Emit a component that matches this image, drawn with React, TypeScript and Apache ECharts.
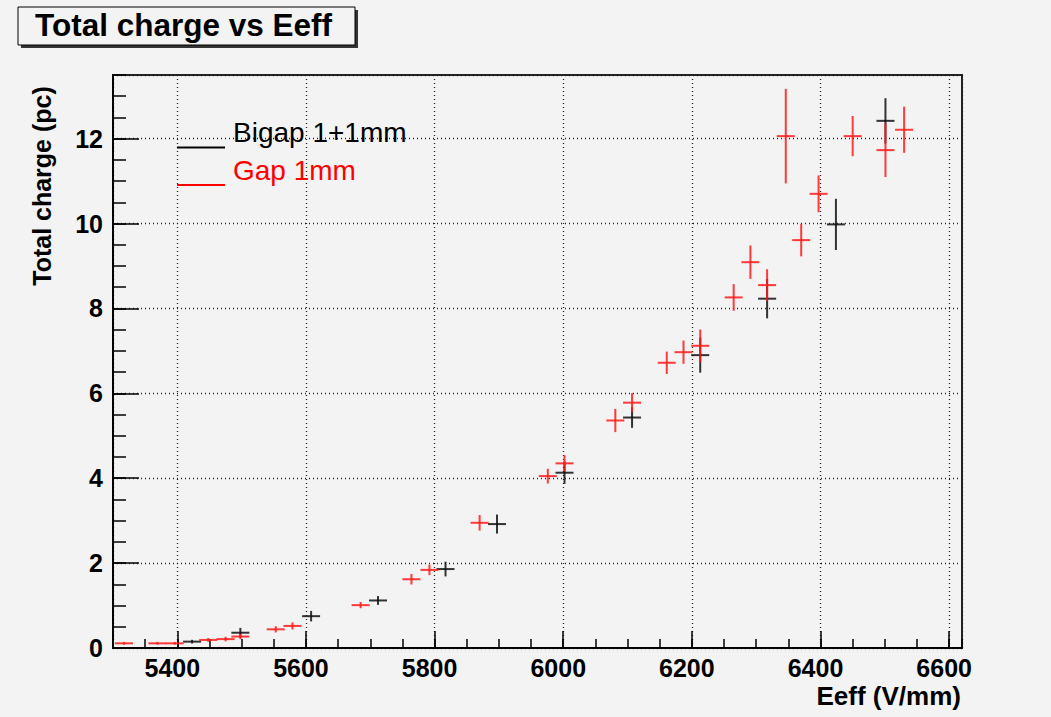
import React, { useEffect, useRef } from "react";
import * as echarts from "echarts";

// ---- data ----
const bigapEeff = [5423, 5498, 5608, 5712, 5817, 5897, 6002, 6107, 6213, 6317, 6424, 6501];
const bigapCharge = [0.15, 0.36, 0.75, 1.12, 1.86, 2.92, 4.13, 5.43, 6.9, 8.23, 9.98, 12.42];
const bigapChargeErr = [0.02, 0.09, 0.1, 0.08, 0.15, 0.2, 0.24, 0.22, 0.39, 0.44, 0.58, 0.51];

const gapEeff = [
  5317, 5369, 5396, 5448, 5475, 5498, 5553, 5579, 5685, 5764, 5792, 5870, 5976, 6002,
  6081, 6107, 6161, 6187, 6213, 6265, 6291, 6317, 6346, 6370, 6397, 6450, 6501, 6530,
];
const gapCharge = [
  0.11, 0.11, 0.11, 0.19, 0.21, 0.27, 0.44, 0.52, 1.01, 1.62, 1.84, 2.95, 4.05, 4.35,
  5.36, 5.78, 6.72, 6.97, 7.12, 8.26, 9.09, 8.55, 12.06, 9.61, 10.7, 12.06, 11.73, 12.21,
];
const gapChargeErr = [
  0.01, 0.01, 0.01, 0.02, 0.03, 0.04, 0.05, 0.06, 0.05, 0.1, 0.1, 0.16, 0.15, 0.17,
  0.25, 0.2, 0.24, 0.25, 0.36, 0.29, 0.37, 0.35, 1.09, 0.36, 0.41, 0.45, 0.61, 0.52,
];
const eeffErr = 14;

const xTickLabels = [5400, 5600, 5800, 6000, 6200, 6400, 6600];
const yTickLabels = [0, 2, 4, 6, 8, 10, 12];

const FONT = '"Liberation Sans", Arial, Helvetica, sans-serif';
const BG = "#f3f3f3";

function errSeries(name: string, xs: number[], ys: number[], es: number[], color: string, z: number) {
  return {
    type: "custom",
    name,
    xAxisIndex: 0,
    yAxisIndex: 0,
    clip: true,
    z,
    encode: { x: 0, y: 1 },
    data: xs.map((x, i) => [x, ys[i], eeffErr, es[i]]),
    renderItem: (params: any, api: any) => {
      const x = api.value(0);
      const y = api.value(1);
      const xe = api.value(2);
      const ye = api.value(3);
      const c = api.coord([x, y]);
      const l = api.coord([x - xe, y]);
      const r = api.coord([x + xe, y]);
      const t = api.coord([x, y + ye]);
      const b = api.coord([x, y - ye]);
      const style = { stroke: color, lineWidth: 2, opacity: 0.85 };
      return {
        type: "group",
        children: [
          { type: "line", shape: { x1: l[0], y1: c[1], x2: r[0], y2: c[1] }, style },
          { type: "line", shape: { x1: c[0], y1: t[1] - 1, x2: c[0], y2: b[1] + 1 }, style },
        ],
      };
    },
  };
}

export default function App() {
  const ref = useRef<HTMLDivElement>(null);
  useEffect(() => {
    if (!ref.current) return;
    const chart = echarts.init(ref.current, undefined, { renderer: "svg" });
    const labelStyle = { color: "#000", fontFamily: FONT, fontWeight: "bold" as const, fontSize: 25 };
    chart.setOption({
      animation: false,
      backgroundColor: BG,
      grid: {
        left: 113,
        right: 89,
        top: 75,
        bottom: 69,
        show: true,
        borderColor: "#222",
        borderWidth: 2,
        backgroundColor: "transparent",
      },
      xAxis: [
        {
          type: "value",
          position: "bottom",
          min: 5300,
          max: 6620,
          splitNumber: 7,
          axisLine: { show: true, onZero: false, lineStyle: { color: "#000", width: 2 } },
          axisTick: { show: true, inside: true, length: 17, lineStyle: { color: "#000", width: 1.5 } },
          axisLabel: {
            ...labelStyle,
            margin: 7,
            padding: [0, 10, 0, 0],
            showMinLabel: false,
            showMaxLabel: false,
            formatter: (v: number) => (xTickLabels.includes(Math.round(v)) ? String(Math.round(v)) : ""),
          },
          splitLine: { show: true, lineStyle: { color: "#222", width: 1.3, type: [1, 3] } },
        },
        {
          type: "value",
          position: "bottom",
          min: 5300,
          max: 6620,
          interval: 50,
          axisLine: { show: false },
          axisTick: { show: true, inside: true, length: 9, lineStyle: { color: "#000", width: 1.5 } },
          axisLabel: { show: false },
          splitLine: { show: false },
        },
      ],
      yAxis: [
        {
          type: "value",
          position: "left",
          min: 0,
          max: 13.5,
          interval: 2,
          axisLine: { show: true, onZero: false, lineStyle: { color: "#000", width: 2 } },
          axisTick: { show: true, inside: true, length: 26, lineStyle: { color: "#000", width: 1.5 } },
          axisLabel: {
            ...labelStyle,
            margin: 10,
            showMaxLabel: false,
            formatter: (v: number) => (yTickLabels.includes(v) ? String(v) : ""),
          },
          splitLine: { show: true, lineStyle: { color: "#222", width: 1.3, type: [1, 3] } },
        },
        {
          type: "value",
          position: "left",
          min: 0,
          max: 13.5,
          interval: 0.5,
          axisLine: { show: false },
          axisTick: { show: true, inside: true, length: 13, lineStyle: { color: "#000", width: 1.5 } },
          axisLabel: { show: false },
          splitLine: { show: false },
        },
      ],
      series: [
        errSeries("Bigap 1+1mm", bigapEeff, bigapCharge, bigapChargeErr, "#111111", 3),
        errSeries("Gap 1mm", gapEeff, gapCharge, gapChargeErr, "#ff1a1a", 4),
      ],
      graphic: [
        { type: "rect", shape: { x: 21, y: 10, width: 337, height: 38 }, style: { fill: "#333" }, z: 10 },
        {
          type: "rect",
          shape: { x: 18, y: 7, width: 337, height: 38 },
          style: { fill: BG, stroke: "#000", lineWidth: 1 },
          z: 11,
        },
        {
          type: "text",
          x: 35,
          y: 25,
          z: 12,
          style: {
            text: "Total charge vs Eeff",
            fill: "#000",
            fontFamily: FONT,
            fontWeight: "bold",
            fontSize: 31.5,
            align: "left",
            verticalAlign: "middle",
          },
        },
        {
          type: "text",
          x: 42,
          y: 186,
          rotation: Math.PI / 2,
          z: 12,
          style: {
            text: "Total charge (pc)",
            fill: "#000",
            fontFamily: FONT,
            fontWeight: "bold",
            fontSize: 25,
            align: "center",
            verticalAlign: "middle",
          },
        },
        {
          type: "text",
          x: 961,
          y: 696,
          z: 12,
          style: {
            text: "Eeff (V/mm)",
            fill: "#000",
            fontFamily: FONT,
            fontWeight: "bold",
            fontSize: 26,
            align: "right",
            verticalAlign: "middle",
          },
        },
        {
          type: "line",
          shape: { x1: 177, y1: 147.5, x2: 225, y2: 147.5 },
          style: { stroke: "#000", lineWidth: 2 },
          z: 12,
        },
        {
          type: "text",
          x: 233,
          y: 132,
          z: 12,
          style: {
            text: "Bigap 1+1mm",
            fill: "#000",
            fontFamily: FONT,
            fontSize: 28,
            align: "left",
            verticalAlign: "middle",
          },
        },
        {
          type: "line",
          shape: { x1: 177, y1: 185, x2: 225, y2: 185 },
          style: { stroke: "#ff0000", lineWidth: 2 },
          z: 12,
        },
        {
          type: "text",
          x: 233,
          y: 170,
          z: 12,
          style: {
            text: "Gap 1mm",
            fill: "#ff0000",
            fontFamily: FONT,
            fontSize: 28,
            align: "left",
            verticalAlign: "middle",
          },
        },
      ],
    });
    return () => chart.dispose();
  }, []);
  return (
    <div
      ref={ref}
      style={{ position: "fixed", left: 0, top: 0, width: 1051, height: 717, background: BG }}
    />
  );
}
